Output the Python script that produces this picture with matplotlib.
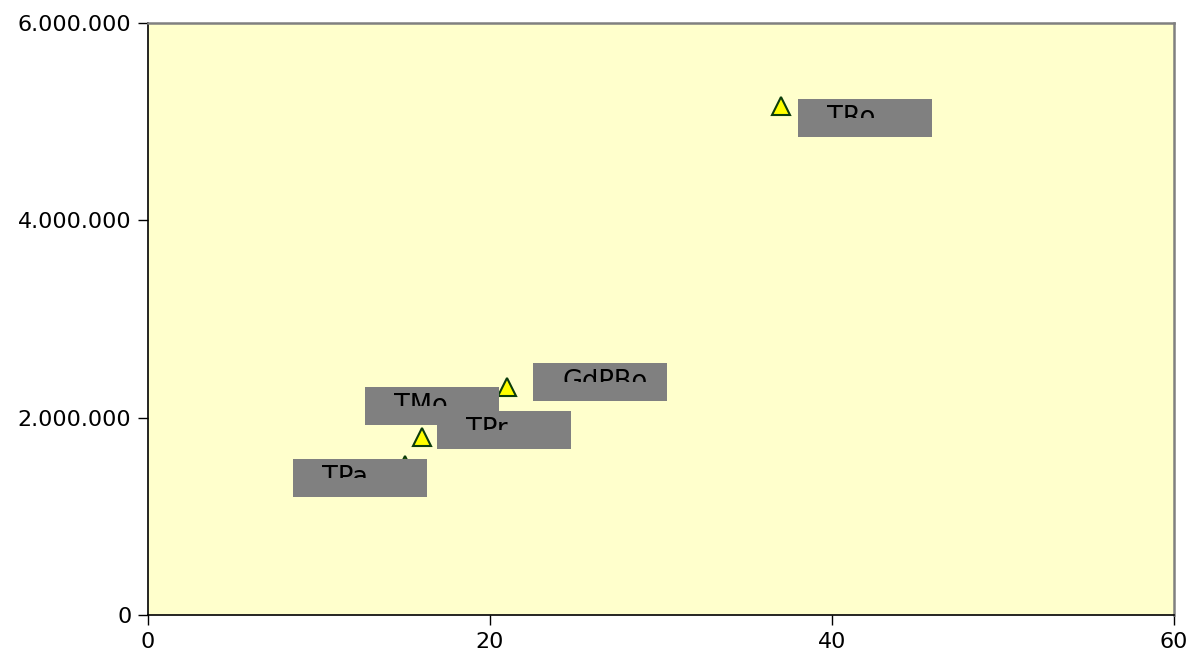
import matplotlib
matplotlib.use("Agg")
import matplotlib.pyplot as plt
import matplotlib.transforms as mtransforms
from matplotlib.patches import Rectangle
from matplotlib.ticker import FuncFormatter, MultipleLocator

# Points and their labels
labels = ["TPa", "TPr", "TMo", "GdPBo", "TRo"]
x_values = [15, 16, 18, 21, 37]
y_values = [1520000, 1800000, 2100000, 2310000, 5160000]

# Where each label box sits relative to its point (pixels, bottom-left corner)
box_offsets = {
    "TPa": (-112, -32),
    "TPr": (15, -11.5),
    "TMo": (-91, -17),
    "GdPBo": (26, -14),
    "TRo": (17, -31.5),
}
BOX_W, BOX_H = 134, 38

fig = plt.figure(figsize=(11.94, 6.59), dpi=100)
ax = fig.add_axes([148 / 1194, 1 - 615 / 659, 1026 / 1194, 592 / 659])
ax.set_facecolor("#FFFFCC")

ax.plot(x_values, y_values, linestyle="none", marker="^", markersize=13,
        markerfacecolor="#FFFF00", markeredgecolor="#0B3D0B",
        markeredgewidth=1.5, zorder=2, clip_on=False)

ax.set_xlim(0, 60)
ax.set_ylim(0, 6000000)
ax.xaxis.set_major_locator(MultipleLocator(20))
ax.yaxis.set_major_locator(MultipleLocator(2000000))
ax.yaxis.set_major_formatter(
    FuncFormatter(lambda v, _: f"{v:,.0f}".replace(",", ".")))
ax.tick_params(axis="both", direction="out", length=7, width=1,
               labelsize=16, colors="black", pad=5)

for side in ("left", "bottom"):
    ax.spines[side].set_color("black")
    ax.spines[side].set_linewidth(1.2)
for side in ("top", "right"):
    ax.spines[side].set_color("#808080")
    ax.spines[side].set_linewidth(1.8)

# Gray label boxes; text only shows in the top part of each box
for name, x, y in zip(labels, x_values, y_values):
    dx, dy = box_offsets[name]
    trans = mtransforms.IdentityTransform() + mtransforms.ScaledTranslation(
        x, y, ax.transData)
    ax.add_patch(Rectangle((dx, dy), BOX_W, BOX_H, transform=trans,
                           facecolor="#808080", edgecolor="none",
                           zorder=3, clip_on=False))
    txt = ax.text(dx + 29, dy + BOX_H - 6, name, transform=trans,
                  fontsize=18.5, color="black", ha="left", va="top",
                  zorder=4, clip_on=True)
    txt.set_clip_box(mtransforms.TransformedBbox(
        mtransforms.Bbox.from_extents(dx, dy + BOX_H - 19,
                                      dx + BOX_W, dy + BOX_H), trans))

fig.savefig("out.png", dpi=100)
